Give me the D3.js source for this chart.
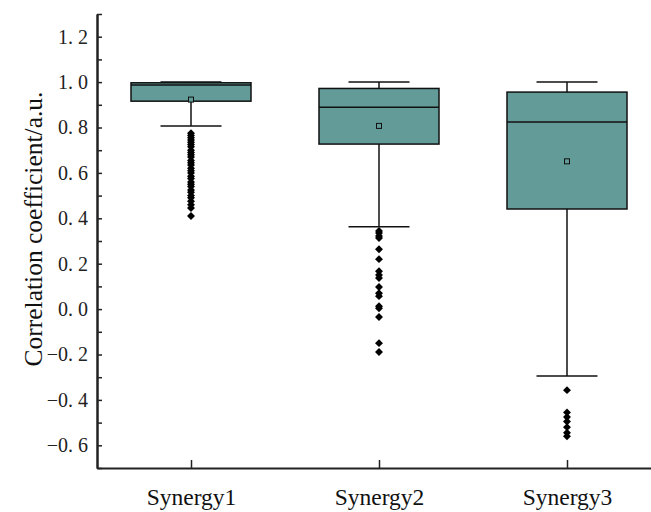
<!DOCTYPE html>
<html>
<head>
<meta charset="utf-8">
<script src="https://cdn.jsdelivr.net/npm/d3@7"></script>
<style>
  body { margin: 0; background: #fff; }
  svg { display: block; }
</style>
</head>
<body>
<div id="chart-area"></div>
<script>
// box plot of the synergy correlation coefficients

var categories = ["Synergy1", "Synergy2", "Synergy3"];

// box statistics
var whiskerHigh = [1.0, 1.0, 1.0];
var q3 = [0.997, 0.972, 0.956];
var medians = [0.987, 0.889, 0.824];
var q1 = [0.916, 0.727, 0.441];
var whiskerLow = [0.807, 0.363, -0.295];
var means = [0.923, 0.807, 0.651];

// outliers for each synergy
var outliers1 = [0.775, 0.765, 0.755, 0.745, 0.735, 0.725, 0.715, 0.70, 0.69, 0.68, 0.67,
                 0.655, 0.645, 0.635, 0.62, 0.61, 0.60, 0.585, 0.575, 0.56, 0.55, 0.54,
                 0.525, 0.515, 0.50, 0.49, 0.475, 0.46, 0.445, 0.41];
var outliers2 = [0.344, 0.335, 0.322, 0.313, 0.264, 0.22, 0.167, 0.150, 0.137, 0.097,
                 0.070, 0.057, 0.013, 0.004, -0.035, -0.150, -0.189];
var outliers3 = [-0.357, -0.455, -0.475, -0.495, -0.52, -0.545, -0.56];
var outliers = [outliers1, outliers2, outliers3];

var yMajorTicks = [-0.6, -0.4, -0.2, 0.0, 0.2, 0.4, 0.6, 0.8, 1.0, 1.2];
var yMinorTicks = [-0.7, -0.5, -0.3, -0.1, 0.1, 0.3, 0.5, 0.7, 0.9, 1.1, 1.3];

var boxColor = "#639b98";
var serif = "'Liberation Serif', 'Times New Roman', serif";
var totalWidth = 651, totalHeight = 512;
var margin = {left: 97, top: 14, bottom: 44};
var height = totalHeight - margin.top - margin.bottom;

var svg = d3.select("#chart-area")
    .append("svg")
        .attr("width", totalWidth)
        .attr("height", totalHeight)
        .style("font-family", serif)
    .append("g")
        .attr("transform", "translate(" + margin.left + ", " + margin.top + ")");

// scales (x axis runs past the right edge of the picture)
var x = d3.scalePoint()
    .domain(categories)
    .range([0, 564])
    .padding(0.5);

var y = d3.scaleLinear()
    .domain([-0.7, 1.3])
    .range([height, 0]);

var boxWidth = 120, capWidth = 61;

// minor y ticks
svg.append("g")
    .attr("class", "y-minor")
    .call(d3.axisLeft(y).tickValues(yMinorTicks).tickFormat("").tickSize(-5).tickSizeOuter(0));

// major y ticks + axis line
var yAxis = d3.axisLeft(y)
    .tickValues(yMajorTicks)
    .tickSize(-5)
    .tickSizeOuter(0)
    .tickPadding(9)
    .tickFormat(function(d) { return d3.format(".1f")(d).replace(".", ". "); });

svg.append("g")
    .attr("class", "y-axis")
    .call(yAxis);

// x axis
var xAxis = d3.axisBottom(x)
    .tickSize(-8)
    .tickSizeOuter(0)
    .tickPadding(20);

svg.append("g")
    .attr("class", "x-axis")
    .attr("transform", "translate(0," + height + ")")
    .call(xAxis);

svg.selectAll(".y-axis, .x-axis, .y-minor").attr("font-family", serif);
svg.selectAll(".y-axis text").attr("font-size", "20px").attr("fill", "#222");
svg.selectAll(".x-axis text").attr("font-size", "23.5px").attr("fill", "#111");
svg.selectAll(".domain").attr("stroke", "#222").attr("stroke-width", 2);
svg.selectAll(".tick line").attr("stroke", "#222").attr("stroke-width", 1.5);

// y label
svg.append("text")
    .attr("transform", "translate(" + (42 - margin.left) + "," + (229 - margin.top) + ") rotate(-90)")
    .attr("text-anchor", "middle")
    .attr("font-size", "25.5px")
    .attr("fill", "#111")
    .text("Correlation coefficient/a.u.");

// boxes
var groups = svg.selectAll(".box")
    .data(categories)
    .enter()
    .append("g")
        .attr("class", "box");

// whiskers
groups.append("line")
    .attr("x1", function(d) { return x(d); })
    .attr("x2", function(d) { return x(d); })
    .attr("y1", function(d, i) { return y(whiskerHigh[i]); })
    .attr("y2", function(d, i) { return y(whiskerLow[i]); })
    .attr("stroke", "#111")
    .attr("stroke-width", 1.5);

[whiskerHigh, whiskerLow].forEach(function(vals) {
    groups.append("line")
        .attr("x1", function(d) { return x(d) - capWidth / 2; })
        .attr("x2", function(d) { return x(d) + capWidth / 2; })
        .attr("y1", function(d, i) { return y(vals[i]); })
        .attr("y2", function(d, i) { return y(vals[i]); })
        .attr("stroke", "#111")
        .attr("stroke-width", 1.5);
});

groups.append("rect")
    .attr("x", function(d) { return x(d) - boxWidth / 2; })
    .attr("width", boxWidth)
    .attr("y", function(d, i) { return y(q3[i]); })
    .attr("height", function(d, i) { return y(q1[i]) - y(q3[i]); })
    .attr("fill", boxColor)
    .attr("stroke", "#111")
    .attr("stroke-width", 1.5);

groups.append("line")
    .attr("x1", function(d) { return x(d) - boxWidth / 2; })
    .attr("x2", function(d) { return x(d) + boxWidth / 2; })
    .attr("y1", function(d, i) { return y(medians[i]); })
    .attr("y2", function(d, i) { return y(medians[i]); })
    .attr("stroke", "#111")
    .attr("stroke-width", 1.5);

// mean marker (small hollow square)
groups.append("rect")
    .attr("x", function(d) { return x(d) - 2.5; })
    .attr("y", function(d, i) { return y(means[i]) - 2.5; })
    .attr("width", 5)
    .attr("height", 5)
    .attr("fill", boxColor)
    .attr("stroke", "#111")
    .attr("stroke-width", 1);

// outlier diamonds
var diamond = d3.symbol().type(d3.symbolDiamond2).size(40);
categories.forEach(function(c, i) {
    svg.selectAll(".out" + i)
        .data(outliers[i])
        .enter()
        .append("path")
            .attr("class", "out" + i)
            .attr("d", diamond)
            .attr("transform", function(d) { return "translate(" + x(c) + "," + y(d) + ")"; })
            .attr("fill", "#000");
});
</script>
</body>
</html>
